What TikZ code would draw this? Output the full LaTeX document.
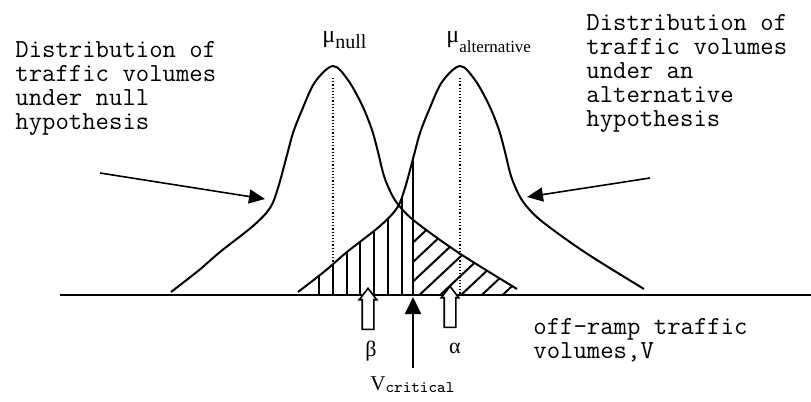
\documentclass[tikz,border=0pt]{standalone}
\usepackage{fontspec}
\setmainfont{Liberation Serif}
\usepackage{tikz}
\usetikzlibrary{arrows.meta, shapes.arrows}

% one bell curve with its peak at x = #1 (pixel units, y grows downwards)
\newcommand{\bellcurve}[1]{plot[smooth, tension=0.55] coordinates {
  ({#1-162},292) ({#1-135},271) ({#1-113},252) ({#1-80},226) ({#1-63},208)
  ({#1-55},188) ({#1-46},155) ({#1-40},133) ({#1-31},110) ({#1-18},82)
  (#1,66)
  ({#1+15},80) ({#1+29},105) ({#1+39},130) ({#1+45},152) ({#1+51},176)
  ({#1+59},195) ({#1+68},208) ({#1+84},223) ({#1+126},253) ({#1+184},289)}}

\begin{document}
\begin{tikzpicture}[
    x=0.5pt, y=-0.5pt,
    bellline/.style={line width=1pt, line join=round},
    hatchline/.style={line width=1pt},
    meanline/.style={densely dotted, line width=0.6pt},
    axisline/.style={line width=0.9pt},
    pointer/.style={-{Triangle[length=8pt, width=7pt]}, line width=0.8pt},
    critarrow/.style={-{Triangle[length=8.5pt, width=8pt]}, line width=0.9pt},
    openarrow/.style={single arrow, draw, fill=white, line width=0.8pt, rotate=90,
      inner sep=2.5pt, minimum height=20.5pt, single arrow head extend=1.5pt,
      single arrow tip angle=75, anchor=tip},
    monotext/.style={font=\fontsize{13}{12}\ttfamily, align=left, inner sep=0pt, anchor=north west},
  ]
  \useasboundingbox (0,0) rectangle (811,402);

  % beta: vertical hatching under the alternative curve
  \begin{scope}
    \clip \bellcurve{460} -- (644,295) -- (298,295) -- cycle;
    \draw[line width=1.1pt] (413,295) -- (413,60);
    \clip (0,0) rectangle (413,295);
    \foreach \x in {319,332.8,...,403} \draw[hatchline] (\x,295) -- (\x,60);
  \end{scope}
  % alpha: diagonal hatching under the null curve
  \begin{scope}
    \clip (413,0) rectangle (811,295);
    \clip \bellcurve{333} -- (517,295) -- (171,295) -- cycle;
    \foreach \x in {357,377.8,...,506} \draw[hatchline] (\x,295) -- ++(160,-150);
  \end{scope}

  \draw[bellline] \bellcurve{333};
  \draw[bellline] \bellcurve{460};
  \draw[meanline] (333,78) -- (333,295);
  \draw[meanline] (460,78) -- (460,295);
  \draw[axisline] (60,295) -- (811,295);

  \node[anchor=base west, inner sep=0pt] (munull) at (322,42)
    {\fontsize{12}{12}\selectfont μ\raisebox{-3pt}{\fontsize{10}{10}\selectfont null}};
  \node[anchor=base west, inner sep=0pt] (mualt) at (446,42)
    {\fontsize{12}{12}\selectfont μ\raisebox{-5pt}{\fontsize{8.5}{8.5}\selectfont alternative}};

  \node[monotext] (nulltext) at (15,41) {Distribution of\\traffic volumes\\under null\\hypothesis};
  \node[monotext] (alttext) at (586,14) {Distribution of\\traffic volumes\\under an\\alternative\\hypothesis};
  \node[monotext] (axistext) at (533,318) {off-ramp traffic\\volumes,V};

  \coordinate (nullfrom) at (100,173);
  \coordinate (nullto) at (265,199);
  \draw[pointer] (nullfrom) -- (nullto);
  \coordinate (altfrom) at (650,178);
  \coordinate (altto) at (527,197);
  \draw[pointer] (altfrom) -- (altto);

  \coordinate (critfoot) at (413,368);
  \coordinate (crittip) at (413,297);
  \draw[critarrow] (critfoot) -- (crittip);
  \node[anchor=base west, inner sep=0pt] (vcrit) at (370,390)
    {\fontsize{10.5}{10}\selectfont V\raisebox{-1pt}{\fontsize{8.1}{8}\ttfamily critical}};

  \node[openarrow] (betamark) at (368,287) {};
  \node[openarrow] (alphamark) at (450,285) {};
  \node[anchor=base, inner sep=0pt, font=\fontsize{11}{11}\selectfont] (betalabel) at (371,356) {β};
  \node[anchor=base, inner sep=0pt, font=\fontsize{11}{11}\selectfont] (alphalabel) at (455,353) {α};
\end{tikzpicture}
\end{document}
